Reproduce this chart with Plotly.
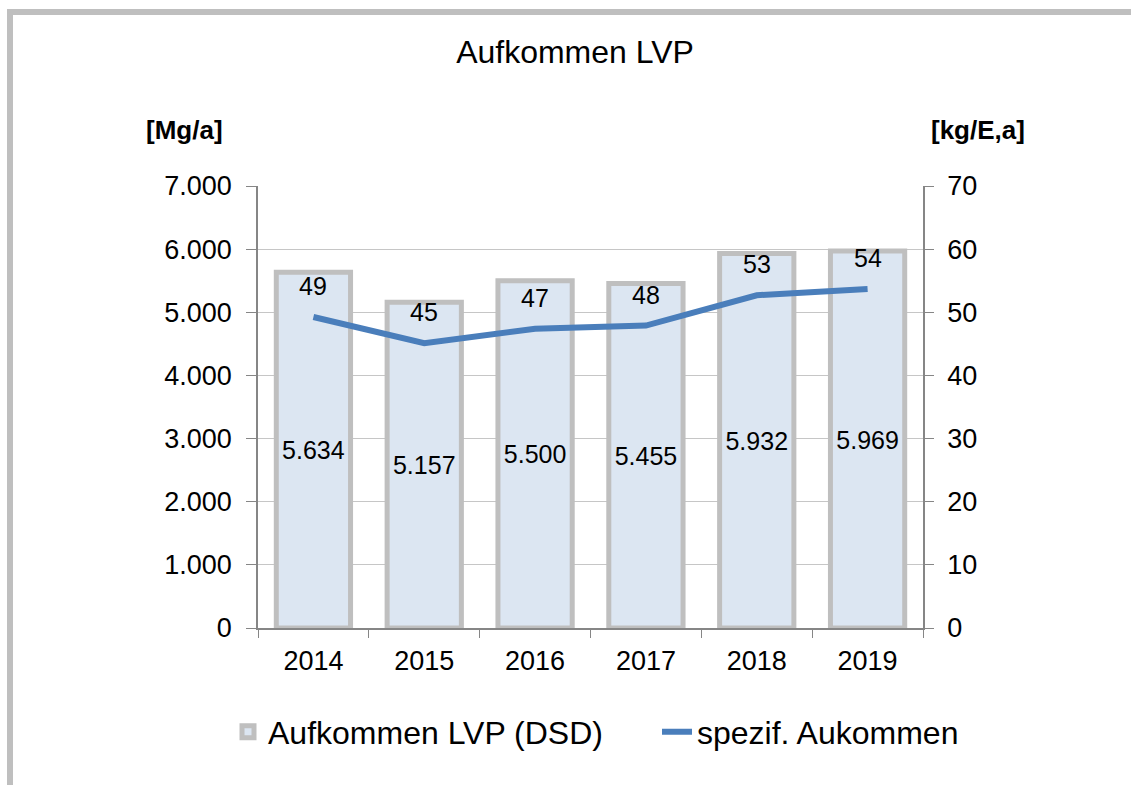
import plotly.graph_objects as go

years = ["2014", "2015", "2016", "2017", "2018", "2019"]
aufkommen = [5634, 5157, 5500, 5455, 5932, 5969]
spezif = [49.25, 45.1, 47.4, 47.9, 52.7, 53.7]
y1_ticks = [0, 1000, 2000, 3000, 4000, 5000, 6000, 7000]
y2_ticks = [0, 10, 20, 30, 40, 50, 60, 70]

FONT = "Arial, Liberation Sans, sans-serif"
W, H = 1131, 785
L, R, T, B = 258, 208, 186, 157
PW, PH = W - L - R, H - T - B

def px(x):
    return (x - L) / PW

def py(y):
    return (H - B - y) / PH

def de(v):
    return f"{v:,}".replace(",", ".")

fig = go.Figure()
fig.add_trace(go.Bar(
    x=years, y=aufkommen, name="Aufkommen LVP (DSD)", legend="legend", showlegend=True,
    marker=dict(color="#DCE6F2", line=dict(color="#BFBFBF", width=5)),
    text=[de(v) for v in aufkommen],
    textposition="inside", insidetextanchor="middle",
    textfont=dict(family=FONT, size=25, color="black"),
    textangle=0,
))
fig.add_trace(go.Scatter(
    x=years, y=spezif, name="spezif. Aukommen", yaxis="y2", mode="lines", legend="legend2",
    showlegend=True, line=dict(color="#4A7EBB", width=6),
))

annotations = []
for i, v in enumerate(spezif):
    annotations.append(dict(
        x=i, y=v, xref="x", yref="y2", text=f"{v:.0f}", showarrow=False,
        yshift=31, font=dict(family=FONT, size=25, color="black"),
    ))
annotations.append(dict(x=px(184), y=py(130), xref="paper", yref="paper", text="<b>[Mg/a]</b>",
                        xanchor="center", yanchor="middle",
                        showarrow=False, font=dict(family=FONT, size=26, color="black")))
annotations.append(dict(x=px(978), y=py(130), xref="paper", yref="paper", text="<b>[kg/E,a]</b>",
                        xanchor="center", yanchor="middle",
                        showarrow=False, font=dict(family=FONT, size=26, color="black")))

shapes = [
    dict(type="line", xref="paper", yref="paper", x0=px(10), x1=px(10), y0=py(12), y1=py(800),
         line=dict(color="#BFBFBF", width=6)),
    dict(type="line", xref="paper", yref="paper", x0=px(7), x1=px(1140), y0=py(12), y1=py(12),
         line=dict(color="#BFBFBF", width=6)),
]

legend_common = dict(orientation="h", xref="container", yref="container", xanchor="left",
                     yanchor="middle", y=1 - 732 / H, font=dict(family=FONT, size=32),
                     bgcolor="rgba(0,0,0,0)")

fig.update_layout(
    width=W, height=H,
    showlegend=True,
    margin=dict(l=L, r=R, t=T, b=B, autoexpand=False),
    paper_bgcolor="white", plot_bgcolor="white",
    bargap=0.33,
    font=dict(family=FONT, color="black"),
    title=dict(text="Aufkommen LVP", x=575 / W, xanchor="center", y=1 - 52 / H, yanchor="middle",
               font=dict(family=FONT, size=32, color="black")),
    xaxis=dict(type="category", categoryorder="array", categoryarray=years, range=[-0.5, 5.5],
               showline=True, linecolor="#868686", linewidth=1.5, ticks="outside",
               tickson="boundaries", ticklen=8, tickcolor="#868686", tickfont=dict(size=27),
               automargin=False, tickangle=0, ticklabelstandoff=8),
    yaxis=dict(range=[0, 7000], tickvals=y1_ticks, ticktext=[de(v) for v in y1_ticks],
               showline=True, linecolor="#868686",
               linewidth=1.5, ticks="outside", ticklen=10, tickcolor="#868686", showgrid=True,
               gridcolor="#C6C6C6", gridwidth=1, zeroline=False, tickfont=dict(size=27),
               automargin=False, ticklabelstandoff=9),
    yaxis2=dict(range=[0, 70], tickvals=y2_ticks, overlaying="y", side="right", showline=True,
                linecolor="#868686", linewidth=1.5, ticks="outside", ticklen=9, tickcolor="#868686",
                showgrid=False, zeroline=False, tickfont=dict(size=27),
                automargin=False, ticklabelstandoff=8),
    legend=dict(x=228 / W, **legend_common),
    legend2=dict(x=657 / W, **legend_common),
    annotations=annotations,
    shapes=shapes,
)

fig.write_html("out.html", config={"displayModeBar": False},
               post_script="document.body.style.margin='0';")
